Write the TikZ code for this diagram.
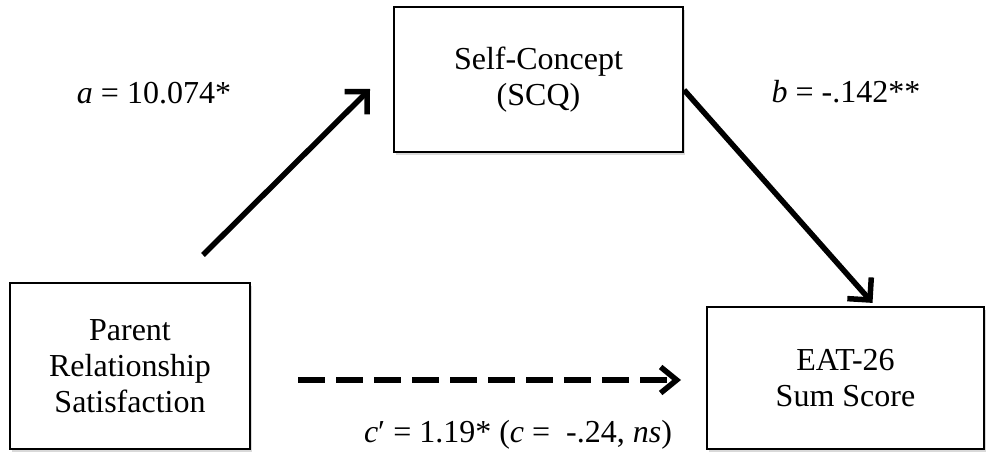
\documentclass[tikz,border=0pt]{standalone}
\usepackage{fontspec}
\setmainfont{Liberation Serif}
\usetikzlibrary{arrows.meta,shadows,calc}
\begin{document}
\begin{tikzpicture}[x=1pt,y=-1pt,
  varbox/.style={draw=black, line width=2.2pt, fill=white, align=center,
    inner sep=0pt, font=\fontsize{32}{36}\selectfont,
    drop shadow={shadow xshift=1.5pt, shadow yshift=-3pt, opacity=0.3}},
  coef/.style={font=\fontsize{32}{36}\selectfont, inner sep=0pt},
  path/.style={line width=5.5pt, -{Straight Barb[length=16pt,width=32pt]}},
  direct/.style={line width=5.5pt, dash pattern=on 27pt off 11pt,
    -{Straight Barb[length=16pt,width=26pt]}}]
  \useasboundingbox (0,0) rectangle (987,452);

  % variables
  \node[varbox, minimum width=289pt, minimum height=145pt] (S) at (538.5,79.5)
    {Self-Concept\\(SCQ)};
  \node[varbox, minimum width=240pt, minimum height=166pt] (P) at (130,366)
    {Parent\\Relationship\\Satisfaction};
  \node[varbox, minimum width=277pt, minimum height=142pt] (E) at (845.5,378)
    {EAT-26\\Sum Score};

  % path coefficients
  \node[coef] (la) at (154,93) {\textit{a} = 10.074*};
  \node[coef] (lb) at (846,92) {\textit{b} = -.142**};
  \node[coef] (lc) at (518,435) {\textit{c}′ = 1.19* (\textit{c} =\ \ -.24, \textit{ns})};

  % arrow end points
  \coordinate (a0) at (203,255);
  \coordinate (a1) at (370,89);
  \coordinate (c0) at (298,380);
  \coordinate (c1) at (681,380);

  \draw[path] (a0) -- (a1);
  \draw[path] ([yshift=-10.5pt]S.east) -- ([xshift=27pt,yshift=3pt]E.north);
  \draw[direct] (c0) -- (c1);
\end{tikzpicture}
\end{document}
